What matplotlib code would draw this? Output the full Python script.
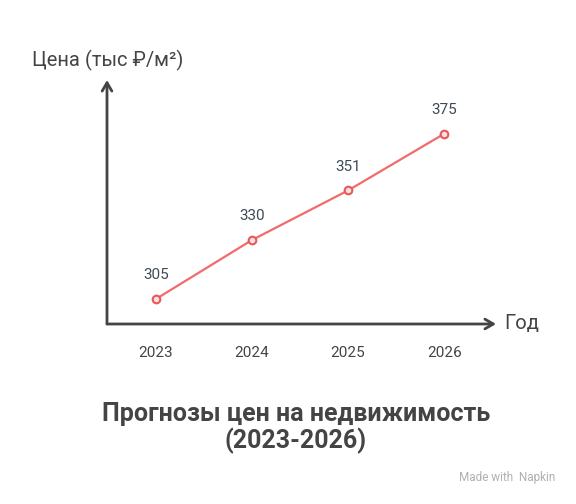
import matplotlib
matplotlib.use('Agg')
import matplotlib.pyplot as plt

years = [2023, 2024, 2025, 2026]
prices = [305, 330, 351, 375]
year_labels = ['2023', '2024', '2025', '2026']

plt.rcParams['font.family'] = ['Roboto', 'DejaVu Sans']

axis_col = '#444444'
line_col = '#f26b6b'

fig = plt.figure(figsize=(5.76, 5.04), dpi=100)
ax = fig.add_axes([107/576, 180/504, (496-107)/576, (324-80)/504])
ax.set_xlim(2022.49, 2026.54)
ax.set_ylim(294.4, 397.8)

ax.plot(years, prices, color=line_col, lw=1.6, marker='o', ms=5.5,
        mfc='#fde0e0', mec='#e85858', mew=1.5, zorder=3)
for x, v in zip(years, prices):
    ax.annotate(str(v), (x, v), xytext=(0, 12), textcoords='offset points',
                ha='center', va='bottom', fontsize=11, color='#3f4a58')

for s in ax.spines.values():
    s.set_visible(False)
ax.set_yticks([])
ax.set_xticks(years)
ax.set_xticklabels(year_labels, fontsize=11, color='#444444')
ax.tick_params(axis='x', length=0, pad=16)

# axis arrows
ax.annotate('', xy=(0, 1), xytext=(0, 0), xycoords='axes fraction',
            arrowprops=dict(arrowstyle='->,head_length=0.6,head_width=0.35',
                            color=axis_col, lw=2, shrinkA=0, shrinkB=0))
ax.annotate('', xy=(1, 0), xytext=(0, 0), xycoords='axes fraction',
            arrowprops=dict(arrowstyle='->,head_length=0.6,head_width=0.35',
                            color=axis_col, lw=2, shrinkA=0, shrinkB=0))

fig.text(32/576, 1 - 60/504, 'Цена (тыс ₽/м²)', fontsize=14.5, color=axis_col,
         ha='left', va='center')
fig.text(504/576, 1 - 324/504, 'Год', fontsize=14.5, color=axis_col,
         ha='left', va='center')

fig.text(296/576, 1 - 428/504, 'Прогнозы цен на недвижимость\n(2023-2026)',
         fontsize=18, fontweight='bold', color='#444444', ha='center',
         va='center', linespacing=1.1)

fig.text(555/576, 1 - 477/504, 'Made with  Napkin', fontsize=8.5,
         color='#b0b0b0', ha='right', va='center')

fig.savefig('out.png', dpi=100)
